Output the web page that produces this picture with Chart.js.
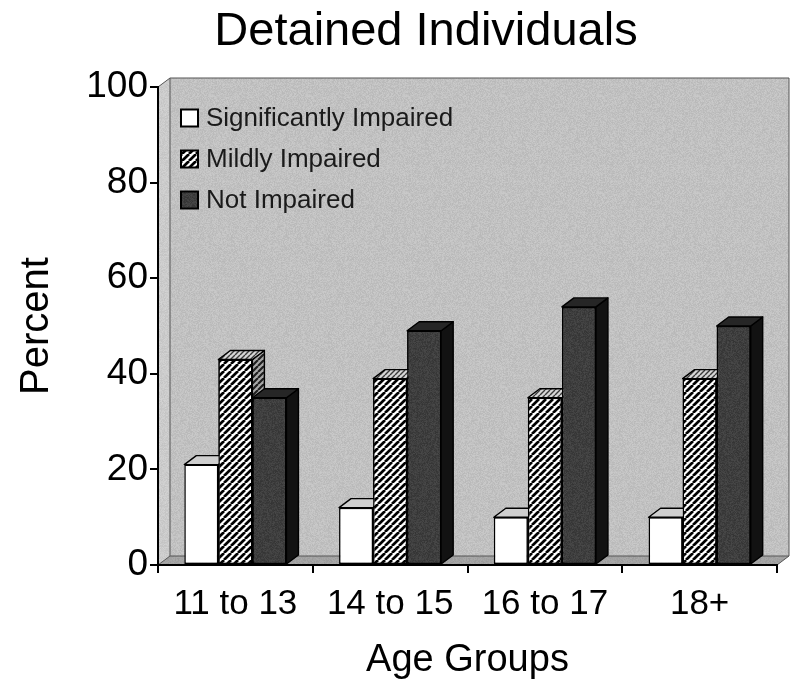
<!DOCTYPE html>
<html>
<head>
<meta charset="utf-8">
<title>Detained Individuals</title>
<script src="https://cdn.jsdelivr.net/npm/chart.js@4.4.1/dist/chart.umd.min.js"></script>
<style>
  html, body { margin: 0; padding: 0; background: #ffffff; }
  #wrap { width: 794px; height: 686px; }
</style>
</head>
<body>
<div id="wrap"><canvas id="chart" width="794" height="686"></canvas></div>
<script>
// ---- data ----
const categories = ['11 to 13', '14 to 15', '16 to 17', '18+'];
const seriesLabels = ['Significantly Impaired', 'Mildly Impaired', 'Not Impaired'];
const significantlyImpaired = [21, 12, 10, 10];
const mildlyImpaired = [43, 39, 35, 39];
const notImpaired = [35, 49, 54, 50];
const yTickValues = [0, 20, 40, 60, 80, 100];

// ---- look ----
const FONT = '"Liberation Sans", Arial, Helvetica, sans-serif';
const DEPTH_X = 12, DEPTH_Y = -9;   // pseudo-3D depth offset

// deterministic grain texture
function grain(base, amp, seed) {
  const size = 97;
  const c = document.createElement('canvas');
  c.width = c.height = size;
  const g = c.getContext('2d');
  const img = g.createImageData(size, size);
  for (let y = 0; y < size; y++) {
    for (let x = 0; x < size; x++) {
      let h = Math.imul(x, 374761393) + Math.imul(y, 668265263) + Math.imul(seed, 1442695041);
      h = Math.imul(h ^ (h >>> 13), 1274126177);
      h ^= h >>> 16;
      const n = (((h & 255) / 255) - 0.5) * 2 * amp;
      const v = Math.max(0, Math.min(255, Math.round(base + n)));
      const i = (y * size + x) * 4;
      img.data[i] = img.data[i + 1] = img.data[i + 2] = v;
      img.data[i + 3] = 255;
    }
  }
  g.putImageData(img, 0, 0);
  return g.createPattern(c, 'repeat');
}

// diagonal "/" hatching
function hatch(bg, fg, size, lw) {
  const c = document.createElement('canvas');
  c.width = c.height = size;
  const g = c.getContext('2d');
  g.fillStyle = bg;
  g.fillRect(0, 0, size, size);
  g.strokeStyle = fg;
  g.lineWidth = lw;
  g.beginPath();
  for (let k = -1; k <= 1; k++) {
    g.moveTo(k * size, size);
    g.lineTo(k * size + size, 0);
  }
  g.stroke();
  return g.createPattern(c, 'repeat');
}

const frontFill = ['#ffffff', hatch('#ffffff', '#000000', 7, 2.7), grain(62, 10, 3)];
const topFill   = ['#cfcfcf', hatch('#d6d6d6', '#3a3a3a', 5, 1.4), '#262626'];
const sideFill  = ['#e4e4e4', hatch('#a8a8a8', '#1e1e1e', 6, 2.2), '#121212'];

const wallFill  = grain(193, 9, 7);
const sideWall  = grain(203, 8, 11);
const floorFill = grain(162, 8, 5);

// back wall, side wall and floor of the 3D plot box
const plotBox = {
  id: 'plotBox',
  beforeDraw(chart) {
    const { ctx, chartArea: a } = chart;
    const L = a.left, R = a.right, T = a.top, B = a.bottom;
    const dx = DEPTH_X, dy = DEPTH_Y;
    ctx.save();
    // back wall
    ctx.fillStyle = wallFill;
    ctx.fillRect(L + dx, T + dy, R - L, B - T);
    // left side wall
    ctx.fillStyle = sideWall;
    ctx.beginPath();
    ctx.moveTo(L, T); ctx.lineTo(L + dx, T + dy); ctx.lineTo(L + dx, B + dy); ctx.lineTo(L, B);
    ctx.closePath(); ctx.fill();
    // floor
    ctx.fillStyle = floorFill;
    ctx.beginPath();
    ctx.moveTo(L, B); ctx.lineTo(L + dx, B + dy); ctx.lineTo(R + dx, B + dy); ctx.lineTo(R, B);
    ctx.closePath(); ctx.fill();
    // edges
    ctx.strokeStyle = '#555555';
    ctx.lineWidth = 1;
    ctx.beginPath();
    ctx.moveTo(L, T); ctx.lineTo(L + dx, T + dy); ctx.lineTo(R + dx, T + dy); ctx.lineTo(R + dx, B + dy); ctx.lineTo(R, B);
    ctx.moveTo(L + dx, T + dy); ctx.lineTo(L + dx, B + dy); ctx.lineTo(R + dx, B + dy);
    ctx.moveTo(L, B); ctx.lineTo(L + dx, B + dy);
    ctx.stroke();
    ctx.restore();
  }
};

// top and side faces of each bar, drawn left to right so nearer faces overlap correctly
const barFaces = {
  id: 'barFaces',
  afterDatasetsDraw(chart) {
    const ctx = chart.ctx;
    const metas = chart.data.datasets.map((d, i) => chart.getDatasetMeta(i));
    const dx = DEPTH_X, dy = DEPTH_Y;
    ctx.save();
    ctx.lineWidth = 1.4;
    ctx.strokeStyle = '#000000';
    ctx.lineJoin = 'round';
    for (let j = 0; j < categories.length; j++) {
      for (let i = 0; i < metas.length; i++) {
        const bar = metas[i].data[j];
        const p = bar.getProps(['x', 'y', 'base', 'width'], true);
        const l = p.x - p.width / 2, r = p.x + p.width / 2, t = p.y, b = p.base;
        // side face
        ctx.fillStyle = sideFill[i];
        ctx.beginPath();
        ctx.moveTo(r, t); ctx.lineTo(r + dx, t + dy); ctx.lineTo(r + dx, b + dy); ctx.lineTo(r, b);
        ctx.closePath(); ctx.fill(); ctx.stroke();
        // top face
        ctx.fillStyle = topFill[i];
        ctx.beginPath();
        ctx.moveTo(l, t); ctx.lineTo(l + dx, t + dy); ctx.lineTo(r + dx, t + dy); ctx.lineTo(r, t);
        ctx.closePath(); ctx.fill(); ctx.stroke();
        // the next bar in the group sits in front of these faces
        if (i + 1 < metas.length) metas[i + 1].data[j].draw(ctx);
      }
    }
    ctx.restore();
  }
};

// legend inside the plot, top left
const insetLegend = {
  id: 'insetLegend',
  afterDraw(chart) {
    const { ctx, chartArea: a } = chart;
    const x0 = a.left + 23, y0 = a.top + 31, step = 41, box = 17;
    ctx.save();
    chart.data.datasets.forEach((ds, i) => {
      const cy = y0 + i * step;
      ctx.fillStyle = frontFill[i];
      ctx.fillRect(x0, cy - box / 2, box, box);
      ctx.strokeStyle = '#000000';
      ctx.lineWidth = 2;
      ctx.strokeRect(x0, cy - box / 2, box, box);
      ctx.fillStyle = '#1a1a1a';
      ctx.font = '26px ' + FONT;
      ctx.textBaseline = 'middle';
      ctx.textAlign = 'left';
      ctx.fillText(ds.label, x0 + box + 8, cy + 1);
    });
    ctx.restore();
  }
};

// move the heading's box so it centres over plot and value labels together
const headingPlacement = {
  id: 'headingPlacement',
  afterLayout(chart) {
    if (chart.titleBlock) chart.titleBlock.left = 75;
  }
};

const valueSeries = [significantlyImpaired, mildlyImpaired, notImpaired];

new Chart(document.getElementById('chart'), {
  type: 'bar',
  data: {
    labels: categories,
    datasets: valueSeries.map((vals, i) => ({
      label: seriesLabels[i],
      data: vals,
      backgroundColor: frontFill[i],
      borderColor: '#000000',
      borderWidth: 1.5,
      borderSkipped: false,
      categoryPercentage: 0.66,
      barPercentage: 1.0
    }))
  },
  options: {
    responsive: false,
    devicePixelRatio: 1,
    animation: false,
    events: [],
    layout: { padding: { left: 0, right: 17, top: 0, bottom: 0 } },
    plugins: {
      legend: { display: false },
      tooltip: { enabled: false },
      title: {
        display: true,
        text: 'Detained Individuals',
        color: '#000000',
        font: { family: FONT, size: 47, weight: 'normal' },
        padding: { top: 4, bottom: 26.6 }
      }
    },
    scales: {
      x: {
        afterFit: s => { s.height = 121; },
        grid: { display: true, drawOnChartArea: false, drawTicks: true, tickLength: 8, color: '#000000', lineWidth: 2, offset: true },
        border: { display: true, color: '#000000', width: 2 },
        ticks: { color: '#000000', font: { family: FONT, size: 35 }, padding: 10, maxRotation: 0, autoSkip: false },
        title: { display: true, text: 'Age Groups', color: '#000000', font: { family: FONT, size: 38 }, padding: { top: 0, bottom: 3 } }
      },
      y: {
        min: 0,
        max: 100,
        afterFit: s => { s.width = 158; },
        afterBuildTicks: s => { s.ticks = yTickValues.map(v => ({ value: v })); },
        grid: { display: true, drawOnChartArea: false, drawTicks: true, tickLength: 8, color: '#000000', lineWidth: 2 },
        border: { display: true, color: '#000000', width: 2 },
        ticks: { color: '#000000', font: { family: FONT, size: 37 }, padding: 2 },
        title: { display: true, text: 'Percent', color: '#000000', font: { family: FONT, size: 40 }, padding: { top: 13, bottom: 0 } }
      }
    }
  },
  plugins: [plotBox, barFaces, insetLegend, headingPlacement]
});
</script>
</body>
</html>
